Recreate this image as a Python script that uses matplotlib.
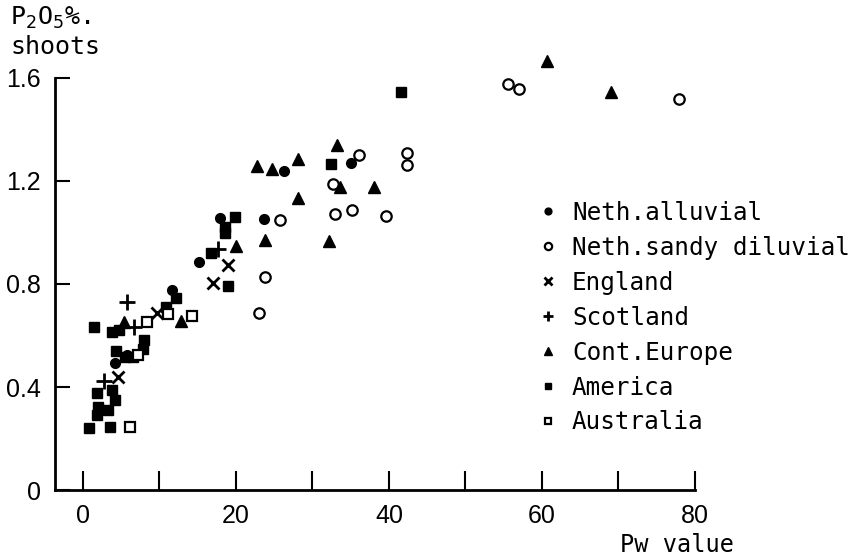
"""P2O5 in shoots vs Pw value, by region (scatter, old-style print figure)."""
import matplotlib

matplotlib.use("Agg")
import matplotlib.pyplot as plt

# ---- data ----
neth_alluvial_x = [11.6, 15.2, 17.9, 23.6, 26.3, 35.0, 4.2, 5.8]
neth_alluvial_y = [0.777, 0.887, 1.055, 1.052, 1.240, 1.269, 0.495, 0.525]

neth_sandy_x = [77.9, 55.6, 57.0, 42.4, 42.4, 36.1, 32.7, 25.8, 33.0, 35.2, 39.6, 23.8, 23.0]
neth_sandy_y = [1.518, 1.575, 1.557, 1.310, 1.262, 1.301, 1.187, 1.049, 1.071, 1.087,
                1.064, 0.826, 0.687]

england_x = [4.6, 9.7, 17.0, 19.0]
england_y = [0.438, 0.686, 0.803, 0.874]

scotland_x = [2.7, 5.7, 6.7, 17.7]
scotland_y = [0.423, 0.729, 0.633, 0.935]

europe_x = [60.6, 69.0, 33.2, 28.1, 22.7, 24.7, 33.6, 38.1, 28.1, 32.2, 23.8, 20.0, 5.4, 12.8]
europe_y = [1.664, 1.547, 1.340, 1.284, 1.258, 1.245, 1.176, 1.176, 1.135, 0.967,
            0.971, 0.946, 0.654, 0.656]

america_x = [41.6, 32.4, 19.9, 18.6, 18.6, 16.8, 19.0, 12.2, 10.9, 1.5, 3.8, 4.7, 8.0,
             7.9, 4.3, 5.5, 6.6, 1.8, 3.8, 4.2, 2.0, 3.3, 1.8, 0.8, 3.5]
america_y = [1.547, 1.264, 1.061, 1.020, 0.997, 0.919, 0.792, 0.746, 0.712, 0.634, 0.615,
             0.622, 0.583, 0.548, 0.540, 0.515, 0.517, 0.375, 0.388, 0.350, 0.323, 0.310,
             0.291, 0.240, 0.245]

australia_x = [6.1, 7.2, 8.4, 11.1, 14.3]
australia_y = [0.243, 0.524, 0.652, 0.682, 0.676]

x_ticks = [0, 10, 20, 30, 40, 50, 60, 70, 80]
x_ticklabels = ["0", "", "20", "", "40", "", "60", "", "80"]
y_ticks = [0, 0.4, 0.8, 1.2, 1.6]
y_ticklabels = ["0", "0.4", "0.8", "1.2", "1.6"]

MONO = ["DejaVu Sans Mono"]
TICKFONT = ["Liberation Sans", "DejaVu Sans"]

fig = plt.figure(figsize=(8.59, 5.55), dpi=100)
ax = fig.add_axes([0.064, 0.117, 0.745, 0.789])

series = [
    (neth_alluvial_x, neth_alluvial_y, "Neth.alluvial",
     dict(marker="o", ms=7, mfc="black", mec="black")),
    (neth_sandy_x, neth_sandy_y, "Neth.sandy diluvial",
     dict(marker="o", ms=7.5, mfc="white", mec="black", mew=1.6)),
    (england_x, england_y, "England",
     dict(marker="x", ms=9, mec="black", mew=2)),
    (scotland_x, scotland_y, "Scotland",
     dict(marker="+", ms=11, mec="black", mew=2)),
    (europe_x, europe_y, "Cont.Europe",
     dict(marker="^", ms=8, mfc="black", mec="black")),
    (america_x, america_y, "America",
     dict(marker="s", ms=7, mfc="black", mec="black")),
    (australia_x, australia_y, "Australia",
     dict(marker="s", ms=7, mfc="white", mec="black", mew=1.6)),
]
for xs, ys, lab, style in series:
    ax.plot(xs, ys, ls="none", label=lab, **style)

ax.set_xlim(-3.66, 80)
ax.set_ylim(0, 1.7)
for side in ("top", "right"):
    ax.spines[side].set_visible(False)
ax.spines["left"].set_bounds(0, 1.6)
ax.spines["left"].set_linewidth(2)
ax.spines["bottom"].set_linewidth(2)

ax.set_xticks(x_ticks)
ax.set_xticklabels(x_ticklabels, family=TICKFONT, fontsize=18)
ax.set_yticks(y_ticks)
ax.set_yticklabels(y_ticklabels, family=TICKFONT, fontsize=18)
ax.tick_params(axis="x", direction="in", length=14, width=1.5, pad=10)
ax.tick_params(axis="y", direction="in", length=11, width=1.5, pad=10)

fig.text(0.012, 0.955, "P$_2$O$_5$%.", family=MONO, fontsize=18, ha="left", va="baseline")
fig.text(0.012, 0.902, "shoots", family=MONO, fontsize=18, ha="left", va="baseline")
fig.text(0.722, 0.006, "Pw value", family=MONO, fontsize=17, ha="left", va="baseline")

leg = ax.legend(loc="upper left", bbox_to_anchor=(0.615, 0.66), bbox_transform=fig.transFigure,
                frameon=False, prop={"family": MONO, "size": 17.5}, markerscale=0.7,
                handlelength=0.6, handletextpad=0.7, labelspacing=0.45, borderpad=0)

fig.savefig("out.png", dpi=100)
